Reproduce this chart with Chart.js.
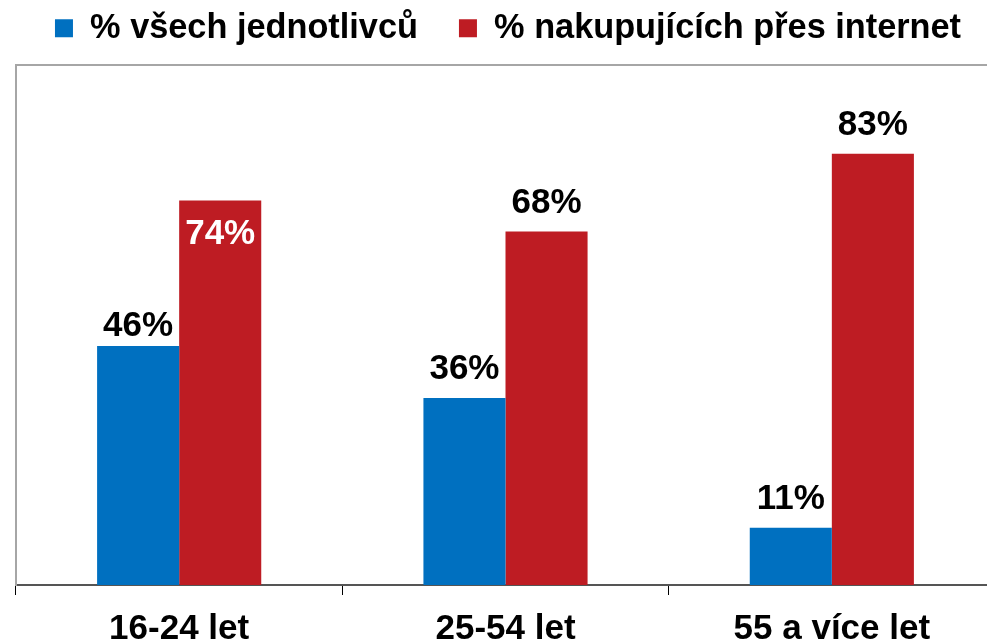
<!DOCTYPE html>
<html>
<head>
<meta charset="utf-8">
<script src="https://cdn.jsdelivr.net/npm/chart.js@4"></script>
<style>
    html, body { margin: 0; padding: 0; overflow: hidden; background: #ffffff; }
    #chart { display: block; margin-top: -30px; }
</style>
</head>
<body>
<canvas id="chart" width="1016" height="693"></canvas>
<script>
const categories = ["16-24 let", "25-54 let", "55 a více let"];
const seriesNames = ["% všech jednotlivců", "% nakupujících přes internet"];
const allIndividuals = [46, 36, 11];
const onlineShoppers = [74, 68, 83];

const blue = '#0070c0';
const red = '#be1c23';
const fontFamily = '"Liberation Sans", Arial, sans-serif';

Chart.defaults.font.family = fontFamily;

// value labels above the bars, the first red one sits inside its bar
const barLabels = {
    id: 'barLabels',
    afterDatasetsDraw(chart) {
        const ctx = chart.ctx;
        ctx.save();
        ctx.font = 'bold 35px ' + fontFamily;
        ctx.textAlign = 'center';
        ctx.textBaseline = 'alphabetic';
        chart.data.datasets.forEach((ds, di) => {
            chart.getDatasetMeta(di).data.forEach((bar, i) => {
                const text = ds.data[i] + '%';
                let y = bar.y - 19;
                ctx.fillStyle = '#000000';
                if (di === 1 && i === 0) {
                    y = bar.y + 44;
                    ctx.fillStyle = '#ffffff';
                } else if (di === 0 && i === 0) {
                    y = bar.y - 10;
                }
                ctx.fillText(text, bar.x, y);
            });
        });
        ctx.restore();
    }
};

const ctx = document.getElementById('chart').getContext('2d');
new Chart(ctx, {
    type: 'bar',
    data: {
        labels: categories,
        datasets: [
            {
                label: seriesNames[0],
                data: allIndividuals,
                backgroundColor: blue,
                borderWidth: 0,
                categoryPercentage: 0.503,
                barPercentage: 1.0
            },
            {
                label: seriesNames[1],
                data: onlineShoppers,
                backgroundColor: red,
                borderWidth: 0,
                categoryPercentage: 0.503,
                barPercentage: 1.0
            }
        ]
    },
    options: {
        responsive: false,
        animation: false,
        layout: { padding: 0 },
        plugins: {
            legend: {
                position: 'top',
                labels: {
                    color: '#000000',
                    boxWidth: 18,
                    boxHeight: 18,
                    padding: 41,
                    font: { size: 34.3, weight: 'bold' }
                }
            },
            tooltip: { enabled: false }
        },
        scales: {
            x: {
                position: 'bottom',
                grid: {
                    display: true,
                    drawOnChartArea: false,
                    drawTicks: true,
                    tickLength: 10,
                    color: '#000000',
                    lineWidth: 1
                },
                border: { display: true, color: '#555555', width: 2 },
                ticks: {
                    color: '#000000',
                    padding: 13,
                    maxRotation: 0,
                    font: { size: 35, weight: 'bold' }
                }
            },
            xTop: {
                position: 'top',
                grid: {
                    display: true,
                    drawOnChartArea: false,
                    drawTicks: true,
                    tickLength: 10,
                    color: 'rgba(0,0,0,0)'
                },
                border: { display: true, color: '#a6a6a6', width: 2 },
                ticks: { display: false }
            },
            y: {
                min: 0,
                max: 100,
                grid: { display: false, drawTicks: false },
                border: { display: true, color: '#a6a6a6', width: 2 },
                ticks: { display: false },
                afterFit(scale) { scale.width = 16; }
            },
            yRight: {
                position: 'right',
                grid: { display: false, drawTicks: false },
                border: { display: false },
                ticks: { display: false },
                afterFit(scale) { scale.width = 21; }
            }
        }
    },
    plugins: [barLabels]
});
</script>
</body>
</html>
